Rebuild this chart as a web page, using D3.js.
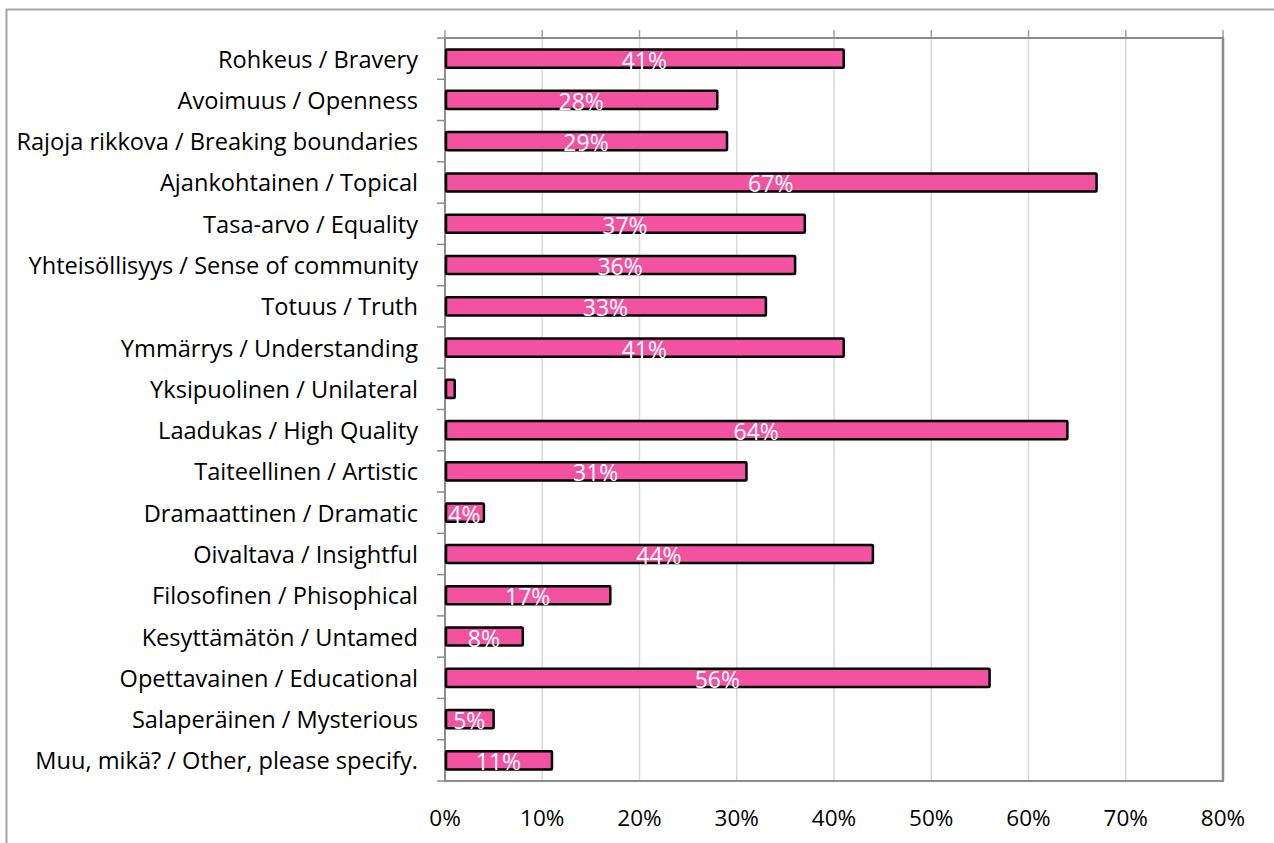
<!DOCTYPE html>
<html><head><meta charset="utf-8">
<script src="https://cdn.jsdelivr.net/npm/d3@7"></script>
<style>body{margin:0;background:#fff}svg{display:block}</style>
</head><body>
<script>
const categories = ["Rohkeus / Bravery","Avoimuus / Openness","Rajoja rikkova / Breaking boundaries","Ajankohtainen / Topical","Tasa-arvo / Equality","Yhteisöllisyys / Sense of community","Totuus / Truth","Ymmärrys / Understanding","Yksipuolinen / Unilateral","Laadukas / High Quality","Taiteellinen / Artistic","Dramaattinen / Dramatic","Oivaltava / Insightful","Filosofinen / Phisophical","Kesyttämätön / Untamed","Opettavainen / Educational","Salaperäinen / Mysterious","Muu, mikä? / Other, please specify."];
const values = [41,28,29,67,37,36,33,41,1,64,31,4,44,17,8,56,5,11];
const xTicks = [0,10,20,30,40,50,60,70,80];

const W=1274,H=843;
const L=445,R=1223,T=38,B=781;
const font="'Open Sans', sans-serif";
const svg=d3.select("body").append("svg").attr("width",W).attr("height",H);
svg.append("path").attr("d",`M6.5,${H} V9.5 H${W}`).attr("fill","none").attr("stroke","#a6a6a6").attr("stroke-width",2);

const x=d3.scaleLinear().domain([0,80]).range([L,R]);
const y=d3.scaleBand().domain(categories).range([T,B]).paddingInner(0.56).paddingOuter(0.28);
const yb=d3.scaleBand().domain(categories).range([T,B]);

svg.append("g").selectAll("line").data(xTicks.slice(1,-1)).join("line")
 .attr("x1",d=>x(d)).attr("x2",d=>x(d)).attr("y1",T).attr("y2",B)
 .attr("stroke","#d9d9d9").attr("stroke-width",1.5);
svg.append("g").selectAll("line").data(xTicks).join("line")
 .attr("x1",d=>x(d)).attr("x2",d=>x(d)).attr("y1",T-8).attr("y2",T)
 .attr("stroke","#a0a0a0").attr("stroke-width",1.5);
const bounds=categories.map(c=>yb(c)).concat([B]);
svg.append("g").selectAll("line").data(bounds).join("line")
 .attr("x1",L-8).attr("x2",L).attr("y1",d=>d).attr("y2",d=>d)
 .attr("stroke","#8c8c8c").attr("stroke-width",1.5);

svg.append("rect").attr("x",L).attr("y",T).attr("width",R-L).attr("height",B-T)
 .attr("fill","none").attr("stroke","#8c8c8c").attr("stroke-width",2);
svg.append("line").attr("x1",R).attr("x2",R).attr("y1",T).attr("y2",B).attr("stroke","#8c8c8c").attr("stroke-width",2.5);

svg.append("g").selectAll("rect").data(values).join("rect")
 .attr("x",x(0)+1).attr("y",(d,i)=>y(categories[i]))
 .attr("width",d=>x(d)-x(0)-1).attr("height",y.bandwidth())
 .attr("fill","#f352a1").attr("stroke","#000").attr("stroke-width",2.5).attr("rx",1);

svg.append("g").selectAll("text").data(values.map((v,i)=>({v,c:categories[i]})).filter(d=>d.v>=2)).join("text")
 .attr("x",d=>(x(0)+x(d.v))/2).attr("y",d=>y(d.c)+y.bandwidth()/2+1)
 .attr("text-anchor","middle").attr("dominant-baseline","central")
 .attr("fill","#fff").attr("font-family",font).attr("font-size",23)
 .text(d=>d.v+"%");

svg.append("g").selectAll("text").data(categories).join("text")
 .attr("x",418).attr("y",d=>yb(d)+yb.bandwidth()/2)
 .attr("text-anchor","end").attr("dominant-baseline","central")
 .attr("fill","#000").attr("font-family",font).attr("font-size",23.6)
 .text(d=>d);

svg.append("g").selectAll("text").data(xTicks).join("text")
 .attr("x",d=>x(d)).attr("y",817)
 .attr("text-anchor","middle").attr("dominant-baseline","central")
 .attr("fill","#000").attr("font-family",font).attr("font-size",22.5)
 .text(d=>d+"%");
</script>
</body></html>
